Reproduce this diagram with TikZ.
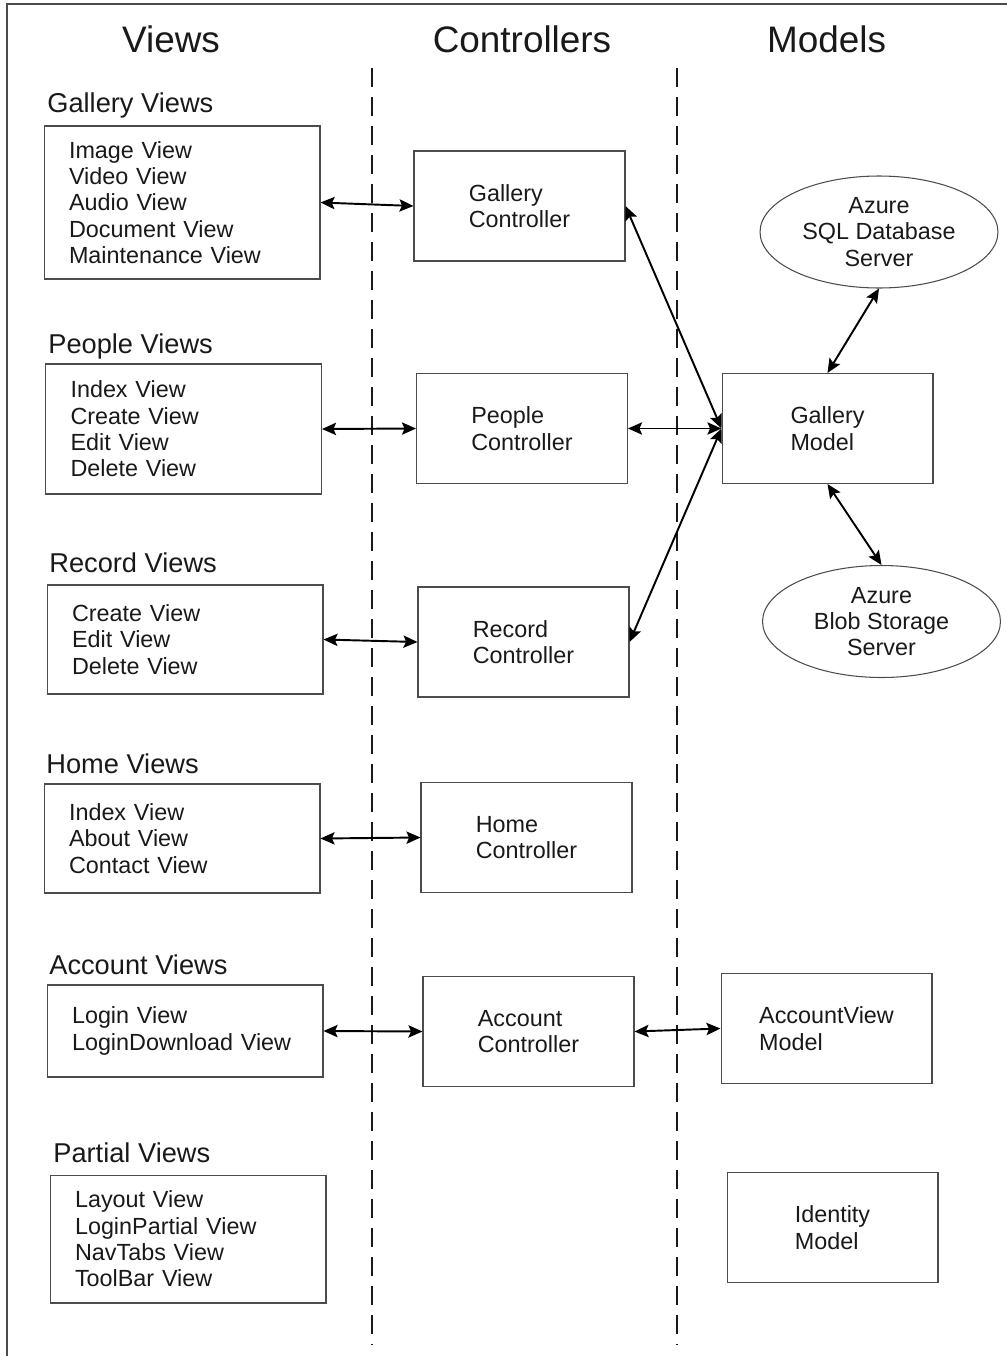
\documentclass[tikz,border=0pt]{standalone}
\usepackage{fontspec}
\setmainfont{Liberation Sans}
\usetikzlibrary{shapes,arrows,positioning,calc,arrows.meta}

\begin{document}
\begin{tikzpicture}[x=0.02cm, y=-0.02cm,
    coltitle/.style={font=\fontsize{21}{25}\selectfont, text=black!90, anchor=base, inner sep=0pt},
    grouptitle/.style={font=\fontsize{15.5}{18}\selectfont, text=black!90, anchor=base west, inner sep=0pt},
    viewbox/.style={draw=black!70, line width=0.6pt, font=\fontsize{13.3}{15}\selectfont, text=black!90, align=left, text width=4.52cm, inner xsep=0.5cm},
    ctlbox/.style={draw=black!70, line width=0.6pt, font=\fontsize{13.3}{15}\selectfont, text=black!90, align=left, minimum width=4.22cm, minimum height=2.2cm},
    server/.style={ellipse, draw=black!70, line width=0.6pt, font=\fontsize{13.3}{15}\selectfont, text=black!90, align=center, inner sep=0pt, minimum width=4.76cm, minimum height=2.24cm},
    twoway/.style={{Stealth[length=8pt,width=7pt,inset=1.5pt]}-{Stealth[length=8pt,width=7pt,inset=1.5pt]}, line width=1.1pt},
    divider/.style={draw=black!90, line width=1.2pt, dash pattern=on 0.38cm off 0.2cm}]
    \useasboundingbox (0,0) rectangle (1007,1356);
    \draw[black!70, line width=0.8pt] (1007,4) -- (7,4) -- (7,1356);
    \draw[divider] (372,68) -- (372,1344);
    \draw[divider] (677,68) -- (677,1344);

    \node[coltitle] (vt) at (171,52) {Views};
    \node[coltitle] (ct) at (522,52) {Controllers};
    \node[coltitle] (mt) at (826.5,52) {Models};

    \node[grouptitle] (gvt) at (47,112) {Gallery Views};
    \node[grouptitle] (pvt) at (48,353) {People Views};
    \node[grouptitle] (rvt) at (49,572) {Record Views};
    \node[grouptitle] (hvt) at (46,773) {Home Views};
    \node[grouptitle] (avt) at (49,974) {Account Views};
    \node[grouptitle] (ptvt) at (53,1162) {Partial Views};

    \node[viewbox, minimum height=3.06cm] (gv) at (182,202.5) {Image View\\Video View\\Audio View\\Document View\\Maintenance View};
    \node[viewbox, minimum height=2.6cm] (pv) at (183.5,429) {Index View\\Create View\\Edit View\\Delete View};
    \node[viewbox, minimum height=2.18cm] (rv) at (185,639.5) {Create View\\Edit View\\Delete View};
    \node[viewbox, minimum height=2.18cm] (hv) at (182,838.5) {Index View\\About View\\Contact View};
    \node[viewbox, minimum height=1.84cm] (av) at (185,1031) {Login View\\LoginDownload View};
    \node[viewbox, minimum height=2.56cm] (ptv) at (188,1239) {Layout View\\LoginPartial View\\NavTabs View\\ToolBar View};

    \node[ctlbox] (gc) at (519.5,206) {Gallery\\Controller};
    \node[ctlbox] (pc) at (522,428.5) {People\\Controller};
    \node[ctlbox] (rc) at (523.5,642) {Record\\Controller};
    \node[ctlbox] (hc) at (526.5,837.5) {Home\\Controller};
    \node[ctlbox] (ac) at (528.5,1031.5) {Account\\Controller};

    \node[ctlbox] (gm) at (827.5,428.5) {Gallery\\Model};
    \node[ctlbox] (am) at (826.5,1028.5) {AccountView\\Model};
    \node[ctlbox] (im) at (832.5,1227.5) {Identity\\Model};
    \node[server] (sql) at (879,232) {Azure\\SQL Database\\Server};
    \node[server] (blob) at (881.5,621.5) {Azure\\Blob Storage\\Server};

    \foreach \v/\c in {gv/gc, pv/pc, rv/rc, hv/hc, av/ac}
        \draw[twoway] (\v.east) -- (\c.west);
    \foreach \c in {gc, pc, rc}
        \draw[twoway] (\c.east) -- (gm.west);
    \draw[twoway] (gm.north) -- (sql.south);
    \draw[twoway] (gm.south) -- (blob.north);
    \draw[twoway] (ac.east) -- (am.west);
\end{tikzpicture}
\end{document}
